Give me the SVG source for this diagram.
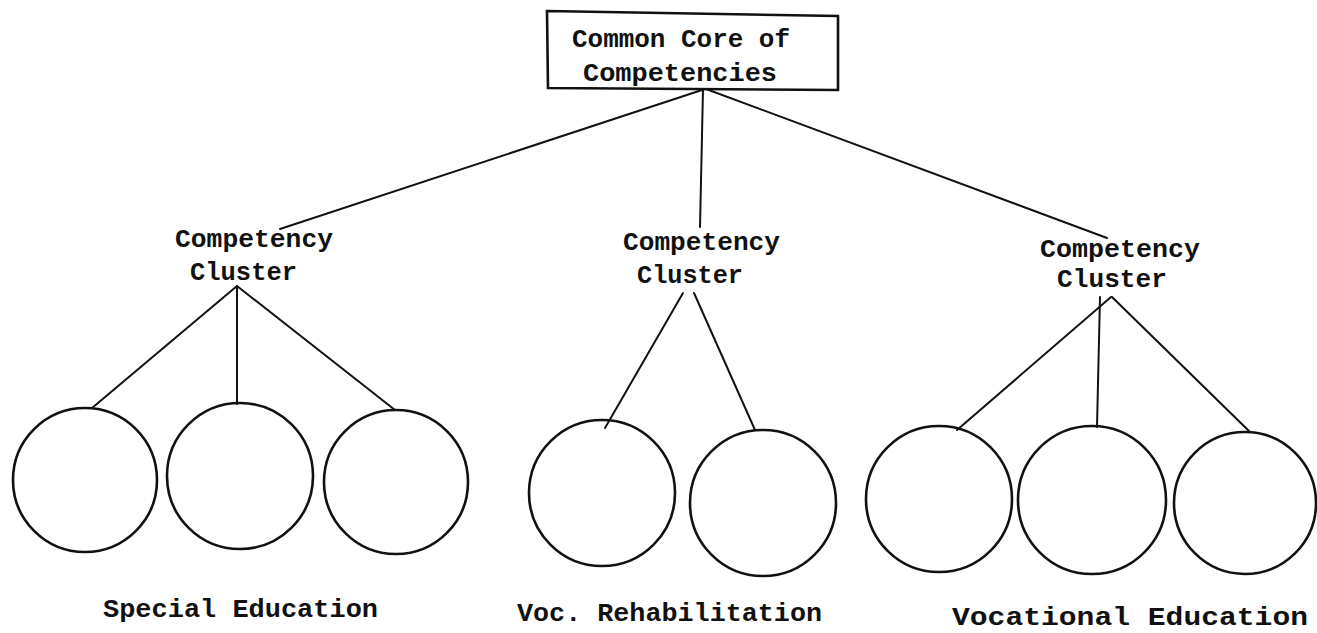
<svg xmlns="http://www.w3.org/2000/svg" width="1317" height="633" viewBox="0 0 1317 633">
<style>
  .bg { fill: #ffffff; }
  .lbl { font-family: "Liberation Mono", "DejaVu Sans Mono", monospace; font-size: 26px; fill: #111111; font-weight: bold; }
  .box { fill: none; stroke: #111111; stroke-width: 2.6; }
  .leaf { fill: none; stroke: #111111; stroke-width: 2.6; }
  .conn line { stroke: #111111; stroke-width: 2; stroke-linecap: round; }
</style>
<rect class="bg" x="0" y="0" width="1317" height="633"/>

<g id="connectors" class="conn">
  <line x1="705" y1="89" x2="280" y2="229"/>
  <line x1="703" y1="89" x2="700" y2="227"/>
  <line x1="706" y1="89" x2="1107" y2="238"/>

  <line x1="237" y1="286" x2="92" y2="408"/>
  <line x1="237" y1="286" x2="237" y2="404"/>
  <line x1="237" y1="286" x2="395" y2="410"/>

  <line x1="683" y1="293" x2="605" y2="428"/>
  <line x1="694" y1="293" x2="755" y2="430"/>

  <line x1="1111" y1="297" x2="957" y2="430"/>
  <line x1="1100" y1="297" x2="1097" y2="427"/>
  <line x1="1112" y1="297" x2="1250" y2="432"/>
</g>

<g id="core">
  <polygon class="box" points="547,11 838,16 838,90 548,88"/>
  <text class="lbl" x="572" y="47" textLength="218" lengthAdjust="spacingAndGlyphs">Common Core of</text>
  <text class="lbl" x="583" y="81" textLength="194" lengthAdjust="spacingAndGlyphs">Competencies</text>
</g>

<g id="cluster-left">
  <text class="lbl" x="175" y="247" textLength="158" lengthAdjust="spacingAndGlyphs">Competency</text>
  <text class="lbl" x="190" y="280" textLength="107" lengthAdjust="spacingAndGlyphs">Cluster</text>
</g>
<g id="cluster-middle">
  <text class="lbl" x="623" y="250" textLength="157" lengthAdjust="spacingAndGlyphs">Competency</text>
  <text class="lbl" x="637" y="283" textLength="106" lengthAdjust="spacingAndGlyphs">Cluster</text>
</g>
<g id="cluster-right">
  <text class="lbl" x="1040" y="257" textLength="160" lengthAdjust="spacingAndGlyphs">Competency</text>
  <text class="lbl" x="1057" y="287" textLength="110" lengthAdjust="spacingAndGlyphs">Cluster</text>
</g>

<g id="circle-1"><circle class="leaf" cx="85" cy="480" r="72"/></g>
<g id="circle-2"><circle class="leaf" cx="240" cy="476" r="73"/></g>
<g id="circle-3"><circle class="leaf" cx="396" cy="482" r="72"/></g>
<g id="circle-4"><circle class="leaf" cx="602" cy="493" r="73"/></g>
<g id="circle-5"><circle class="leaf" cx="763" cy="503" r="73"/></g>
<g id="circle-6"><circle class="leaf" cx="939" cy="499" r="73"/></g>
<g id="circle-7"><circle class="leaf" cx="1092" cy="500" r="74"/></g>
<g id="circle-8"><circle class="leaf" cx="1245" cy="503" r="71"/></g>

<g id="label-special">
  <text class="lbl" x="103" y="617" textLength="275" lengthAdjust="spacingAndGlyphs">Special Education</text>
</g>
<g id="label-voc-rehab">
  <text class="lbl" x="517" y="621" textLength="305" lengthAdjust="spacingAndGlyphs">Voc. Rehabilitation</text>
</g>
<g id="label-voc-ed">
  <text class="lbl" x="952" y="625" textLength="356" lengthAdjust="spacingAndGlyphs">Vocational Education</text>
</g>
</svg>
